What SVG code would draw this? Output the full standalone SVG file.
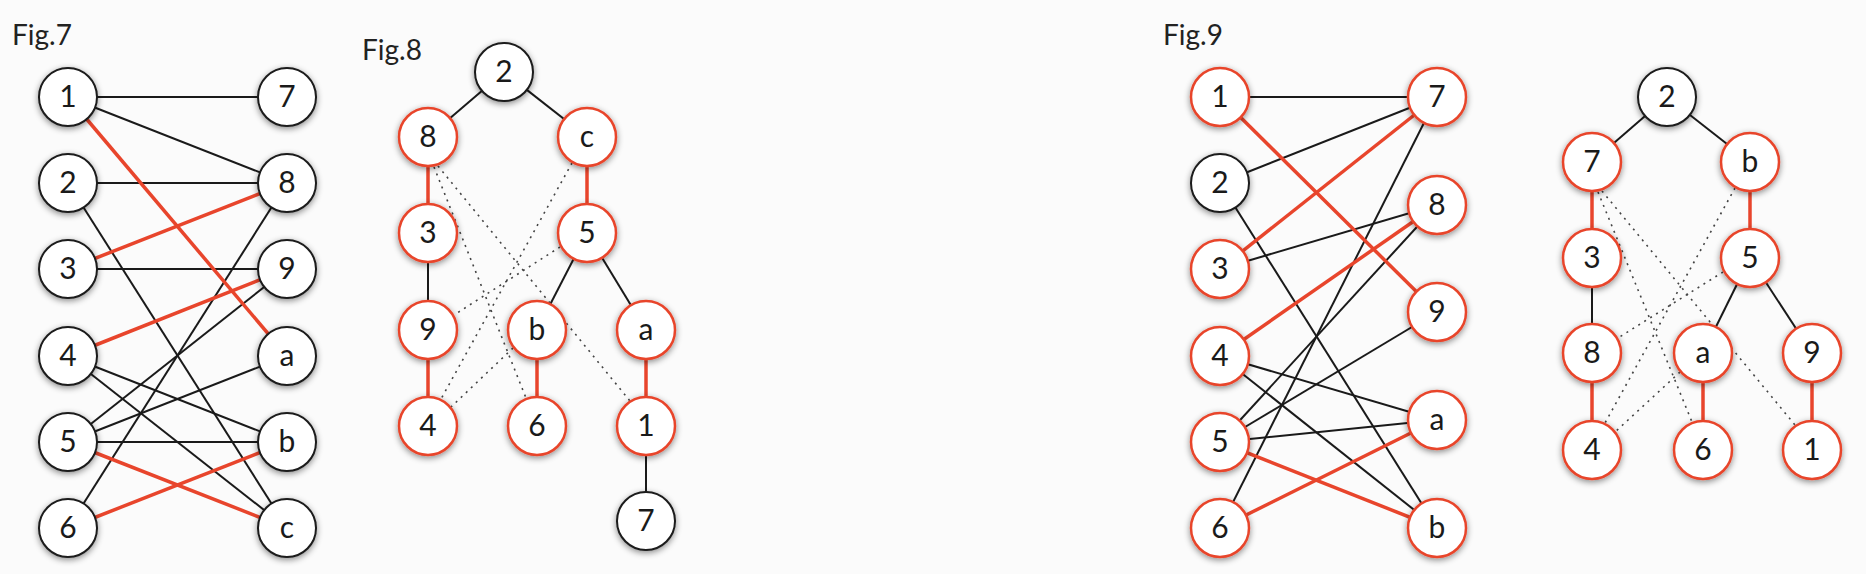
<svg xmlns="http://www.w3.org/2000/svg" width="1866" height="574" viewBox="0 0 1866 574">
<defs>
<filter id="sh" x="-50%" y="-50%" width="200%" height="200%">
<feDropShadow dx="0" dy="2" stdDeviation="3" flood-color="#000" flood-opacity="0.45"/>
</filter>
<style>
.n circle{fill:#fff;stroke:#1a1a1a;stroke-width:2;filter:url(#sh)}
.r circle{stroke:#e8452c;stroke-width:2.5}
.n text{font-family:Lato,"Open Sans","DejaVu Sans",sans-serif;font-size:30px;text-anchor:middle;fill:#1a1a1a}
.fig{font-family:Lato,"Open Sans","DejaVu Sans",sans-serif;font-size:28px;fill:#222}
.k{stroke:#1a1a1a;stroke-width:2;fill:none}
.e{stroke:#e8452c;stroke-width:3.5;fill:none}
.d{stroke:#444;stroke-width:1.6;stroke-dasharray:2 5;fill:none}
</style>
</defs>
<rect width="1866" height="574" fill="#fbfbfb"/>
<text class="fig" x="12" y="45">Fig.7</text>
<text class="fig" x="362" y="60">Fig.8</text>
<text class="fig" x="1163" y="45">Fig.9</text>

<g id="connectors">
<!-- Fig.7 -->
<line class="k" x1="68" y1="97" x2="287" y2="97"/>
<line class="k" x1="68" y1="97" x2="287" y2="183"/>
<line class="k" x1="68" y1="183" x2="287" y2="183"/>
<line class="k" x1="68" y1="183" x2="287" y2="528"/>
<line class="k" x1="68" y1="269" x2="287" y2="269"/>
<line class="k" x1="68" y1="356" x2="287" y2="442"/>
<line class="k" x1="68" y1="356" x2="287" y2="528"/>
<line class="k" x1="68" y1="442" x2="287" y2="269"/>
<line class="k" x1="68" y1="442" x2="287" y2="356"/>
<line class="k" x1="68" y1="442" x2="287" y2="442"/>
<line class="k" x1="68" y1="528" x2="287" y2="183"/>
<line class="e" x1="68" y1="97" x2="287" y2="356"/>
<line class="e" x1="68" y1="269" x2="287" y2="183"/>
<line class="e" x1="68" y1="356" x2="287" y2="269"/>
<line class="e" x1="68" y1="442" x2="287" y2="528"/>
<line class="e" x1="68" y1="528" x2="287" y2="442"/>
<!-- Fig.8 -->
<line class="k" x1="504" y1="72" x2="428" y2="137"/>
<line class="k" x1="504" y1="72" x2="587" y2="137"/>
<line class="e" x1="428" y1="137" x2="428" y2="233"/>
<line class="e" x1="587" y1="137" x2="587" y2="233"/>
<line class="k" x1="428" y1="233" x2="428" y2="330"/>
<line class="e" x1="428" y1="330" x2="428" y2="426"/>
<line class="k" x1="587" y1="233" x2="537" y2="330"/>
<line class="k" x1="587" y1="233" x2="646" y2="330"/>
<line class="e" x1="537" y1="330" x2="537" y2="426"/>
<line class="e" x1="646" y1="330" x2="646" y2="426"/>
<line class="k" x1="646" y1="426" x2="646" y2="521"/>
<line class="d" x1="438" y1="166" x2="630" y2="401"/>
<line class="d" x1="434" y1="167" x2="526" y2="398"/>
<line class="d" x1="572" y1="163" x2="441" y2="399"/>
<line class="d" x1="560" y1="247" x2="454" y2="315"/>
<line class="d" x1="513" y1="348" x2="451" y2="407"/>
<!-- Fig.9 -->
<line class="k" x1="1220" y1="97" x2="1437" y2="97"/>
<line class="k" x1="1220" y1="183" x2="1437" y2="97"/>
<line class="k" x1="1220" y1="183" x2="1437" y2="528"/>
<line class="k" x1="1220" y1="269" x2="1437" y2="205"/>
<line class="k" x1="1220" y1="356" x2="1437" y2="420"/>
<line class="k" x1="1220" y1="356" x2="1437" y2="528"/>
<line class="k" x1="1220" y1="442" x2="1437" y2="205"/>
<line class="k" x1="1220" y1="442" x2="1437" y2="312"/>
<line class="k" x1="1220" y1="442" x2="1437" y2="420"/>
<line class="k" x1="1220" y1="528" x2="1437" y2="97"/>
<line class="e" x1="1220" y1="97" x2="1437" y2="312"/>
<line class="e" x1="1220" y1="269" x2="1437" y2="97"/>
<line class="e" x1="1220" y1="356" x2="1437" y2="205"/>
<line class="e" x1="1220" y1="442" x2="1437" y2="528"/>
<line class="e" x1="1220" y1="528" x2="1437" y2="420"/>
<!-- Fig.9 tree -->
<line class="k" x1="1667" y1="97" x2="1592" y2="162"/>
<line class="k" x1="1667" y1="97" x2="1750" y2="162"/>
<line class="e" x1="1592" y1="162" x2="1592" y2="258"/>
<line class="e" x1="1750" y1="162" x2="1750" y2="258"/>
<line class="k" x1="1592" y1="258" x2="1592" y2="353"/>
<line class="e" x1="1592" y1="353" x2="1592" y2="450"/>
<line class="k" x1="1750" y1="258" x2="1703" y2="353"/>
<line class="k" x1="1750" y1="258" x2="1812" y2="353"/>
<line class="e" x1="1703" y1="353" x2="1703" y2="450"/>
<line class="e" x1="1812" y1="353" x2="1812" y2="450"/>
<line class="d" x1="1602" y1="191" x2="1795" y2="425"/>
<line class="d" x1="1598" y1="192" x2="1692" y2="422"/>
<line class="d" x1="1735" y1="188" x2="1605" y2="423"/>
<line class="d" x1="1723" y1="272" x2="1618" y2="338"/>
<line class="d" x1="1680" y1="372" x2="1615" y2="432"/>
</g>

<!-- Fig.7 nodes -->
<g id="f7-1" class="n"><circle cx="68" cy="97" r="29"/><text x="68" y="107">1</text></g>
<g id="f7-2" class="n"><circle cx="68" cy="183" r="29"/><text x="68" y="193">2</text></g>
<g id="f7-3" class="n"><circle cx="68" cy="269" r="29"/><text x="68" y="279">3</text></g>
<g id="f7-4" class="n"><circle cx="68" cy="356" r="29"/><text x="68" y="366">4</text></g>
<g id="f7-5" class="n"><circle cx="68" cy="442" r="29"/><text x="68" y="452">5</text></g>
<g id="f7-6" class="n"><circle cx="68" cy="528" r="29"/><text x="68" y="538">6</text></g>
<g id="f7-7" class="n"><circle cx="287" cy="97" r="29"/><text x="287" y="107">7</text></g>
<g id="f7-8" class="n"><circle cx="287" cy="183" r="29"/><text x="287" y="193">8</text></g>
<g id="f7-9" class="n"><circle cx="287" cy="269" r="29"/><text x="287" y="279">9</text></g>
<g id="f7-a" class="n"><circle cx="287" cy="356" r="29"/><text x="287" y="366">a</text></g>
<g id="f7-b" class="n"><circle cx="287" cy="442" r="29"/><text x="287" y="452">b</text></g>
<g id="f7-c" class="n"><circle cx="287" cy="528" r="29"/><text x="287" y="538">c</text></g>

<!-- Fig.8 nodes -->
<g id="f8-2" class="n"><circle cx="504" cy="72" r="29"/><text x="504" y="82">2</text></g>
<g id="f8-8" class="n r"><circle cx="428" cy="137" r="29"/><text x="428" y="147">8</text></g>
<g id="f8-c" class="n r"><circle cx="587" cy="137" r="29"/><text x="587" y="147">c</text></g>
<g id="f8-3" class="n r"><circle cx="428" cy="233" r="29"/><text x="428" y="243">3</text></g>
<g id="f8-5" class="n r"><circle cx="587" cy="233" r="29"/><text x="587" y="243">5</text></g>
<g id="f8-9" class="n r"><circle cx="428" cy="330" r="29"/><text x="428" y="340">9</text></g>
<g id="f8-b" class="n r"><circle cx="537" cy="330" r="29"/><text x="537" y="340">b</text></g>
<g id="f8-a" class="n r"><circle cx="646" cy="330" r="29"/><text x="646" y="340">a</text></g>
<g id="f8-4" class="n r"><circle cx="428" cy="426" r="29"/><text x="428" y="436">4</text></g>
<g id="f8-6" class="n r"><circle cx="537" cy="426" r="29"/><text x="537" y="436">6</text></g>
<g id="f8-1" class="n r"><circle cx="646" cy="426" r="29"/><text x="646" y="436">1</text></g>
<g id="f8-7" class="n"><circle cx="646" cy="521" r="29"/><text x="646" y="531">7</text></g>

<!-- Fig.9 graph nodes -->
<g id="f9-1" class="n r"><circle cx="1220" cy="97" r="29"/><text x="1220" y="107">1</text></g>
<g id="f9-2" class="n"><circle cx="1220" cy="183" r="29"/><text x="1220" y="193">2</text></g>
<g id="f9-3" class="n r"><circle cx="1220" cy="269" r="29"/><text x="1220" y="279">3</text></g>
<g id="f9-4" class="n r"><circle cx="1220" cy="356" r="29"/><text x="1220" y="366">4</text></g>
<g id="f9-5" class="n r"><circle cx="1220" cy="442" r="29"/><text x="1220" y="452">5</text></g>
<g id="f9-6" class="n r"><circle cx="1220" cy="528" r="29"/><text x="1220" y="538">6</text></g>
<g id="f9-7" class="n r"><circle cx="1437" cy="97" r="29"/><text x="1437" y="107">7</text></g>
<g id="f9-8" class="n r"><circle cx="1437" cy="205" r="29"/><text x="1437" y="215">8</text></g>
<g id="f9-9" class="n r"><circle cx="1437" cy="312" r="29"/><text x="1437" y="322">9</text></g>
<g id="f9-a" class="n r"><circle cx="1437" cy="420" r="29"/><text x="1437" y="430">a</text></g>
<g id="f9-b" class="n r"><circle cx="1437" cy="528" r="29"/><text x="1437" y="538">b</text></g>

<!-- Fig.9 tree nodes -->
<g id="t9-2" class="n"><circle cx="1667" cy="97" r="29"/><text x="1667" y="107">2</text></g>
<g id="t9-7" class="n r"><circle cx="1592" cy="162" r="29"/><text x="1592" y="172">7</text></g>
<g id="t9-b" class="n r"><circle cx="1750" cy="162" r="29"/><text x="1750" y="172">b</text></g>
<g id="t9-3" class="n r"><circle cx="1592" cy="258" r="29"/><text x="1592" y="268">3</text></g>
<g id="t9-5" class="n r"><circle cx="1750" cy="258" r="29"/><text x="1750" y="268">5</text></g>
<g id="t9-8" class="n r"><circle cx="1592" cy="353" r="29"/><text x="1592" y="363">8</text></g>
<g id="t9-a" class="n r"><circle cx="1703" cy="353" r="29"/><text x="1703" y="363">a</text></g>
<g id="t9-9" class="n r"><circle cx="1812" cy="353" r="29"/><text x="1812" y="363">9</text></g>
<g id="t9-4" class="n r"><circle cx="1592" cy="450" r="29"/><text x="1592" y="460">4</text></g>
<g id="t9-6" class="n r"><circle cx="1703" cy="450" r="29"/><text x="1703" y="460">6</text></g>
<g id="t9-1" class="n r"><circle cx="1812" cy="450" r="29"/><text x="1812" y="460">1</text></g>
</svg>
